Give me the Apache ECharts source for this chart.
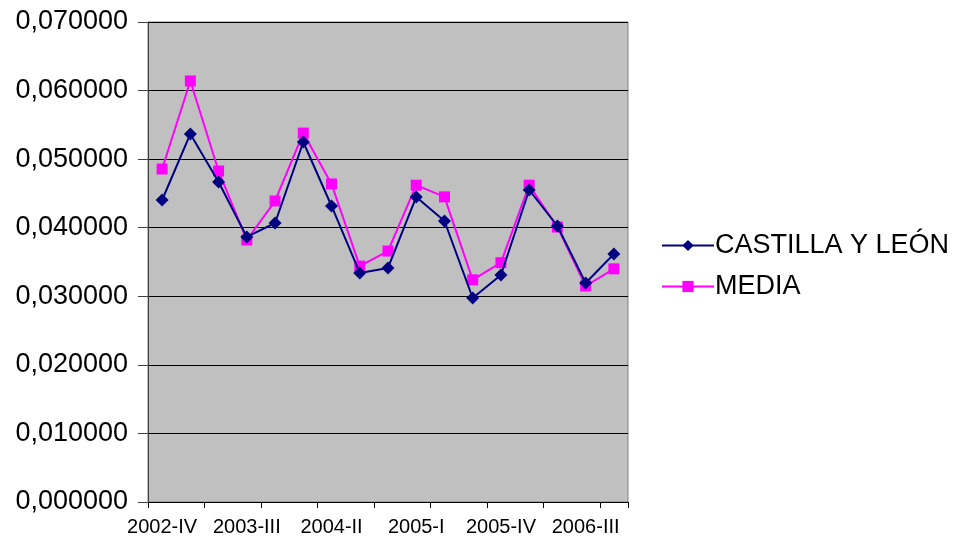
<!DOCTYPE html>
<html>
<head>
<meta charset="utf-8">
<script src="https://cdn.jsdelivr.net/npm/echarts@6/dist/echarts.min.js"></script>
<style>
html,body{margin:0;padding:0;background:#fff;}
#chart{width:956px;height:543px;}
</style>
</head>
<body>
<div id="chart"></div>
<script>
const categories = ['2002-IV','2003-I','2003-II','2003-III','2003-IV','2004-I','2004-II','2004-III','2004-IV','2005-I','2005-II','2005-III','2005-IV','2006-I','2006-II','2006-III','2006-IV'];
const castilla = [0.04404,0.05367,0.04667,0.03865,0.04069,0.0525,0.04317,0.0334,0.03413,0.04448,0.04098,0.02975,0.0331,0.0455,0.04025,0.03194,0.03617];
const media = [0.04856,0.0614,0.04827,0.0382,0.0439,0.0538,0.04638,0.0344,0.0366,0.0462,0.0445,0.0324,0.0349,0.0462,0.0401,0.0315,0.034];
const seriesNames = ['CASTILLA Y LEÓN','MEDIA'];

const chart = echarts.init(document.getElementById('chart'), null, {renderer:'canvas'});
chart.setOption({
  animation:false,
  backgroundColor:'#ffffff',
  textStyle:{fontFamily:'Liberation Sans, Arial, sans-serif'},
  grid:{left:148,right:328,top:22,bottom:41,show:true,backgroundColor:'#c0c0c0',borderColor:'#808080',borderWidth:1},
  legend:{
    orient:'vertical',left:656,top:227,itemWidth:52,itemHeight:14,itemGap:14,
    textStyle:{fontSize:27,color:'#000',fontFamily:'Liberation Sans, Arial, sans-serif',padding:[0,0,0,-4]},
    data:seriesNames
  },
  xAxis:{
    type:'category',data:categories,boundaryGap:true,
    axisLine:{lineStyle:{color:'#000',width:1}},
    axisTick:{show:true,interval:1,length:6,lineStyle:{color:'#000'}},
    axisLabel:{interval:2,fontSize:20,color:'#000',margin:15,fontFamily:'Liberation Sans, Arial, sans-serif'}
  },
  yAxis:{
    type:'value',min:0,max:0.07,interval:0.01,
    axisLine:{show:true,lineStyle:{color:'#404040',width:1}},
    axisTick:{show:true,length:10,lineStyle:{color:'#404040'}},
    axisLabel:{fontSize:27,color:'#000',margin:20,fontFamily:'Liberation Sans, Arial, sans-serif',
      formatter:v=>v.toFixed(6).replace('.',',')},
    splitLine:{show:true,lineStyle:{color:'#000',width:1}}
  },
  series:[
    {name:seriesNames[0],type:'line',data:castilla,symbol:'diamond',symbolSize:13,
     lineStyle:{color:'#000080',width:2},itemStyle:{color:'#000080'},z:3},
    {name:seriesNames[1],type:'line',data:media,symbol:'rect',symbolSize:11,
     lineStyle:{color:'#ff00ff',width:2},itemStyle:{color:'#ff00ff'},z:2}
  ]
});
</script>
</body>
</html>
